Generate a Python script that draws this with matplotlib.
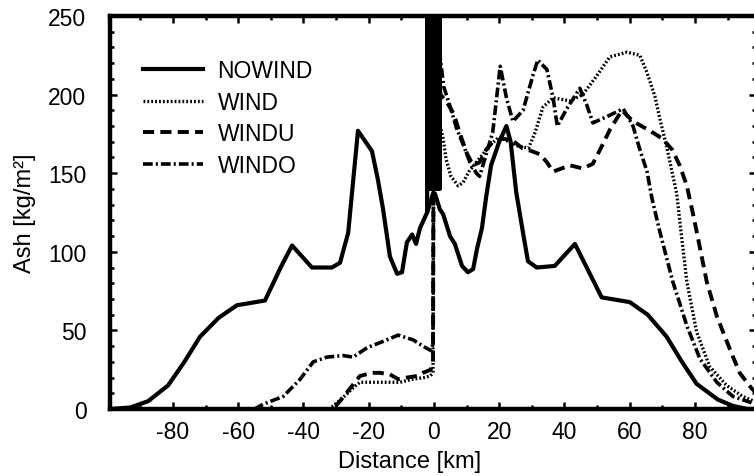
import matplotlib
matplotlib.use("Agg")
import matplotlib.pyplot as plt
from matplotlib.ticker import MultipleLocator

plt.rcParams["font.family"] = ["Liberation Sans", "DejaVu Sans"]
plt.rcParams["lines.scale_dashes"] = False
plt.rcParams["axes.unicode_minus"] = False

# NOWIND profile (km, kg/m2)
nowind_x = [-99, -93, -87.6, -81.5, -76.5, -71.7, -66, -60.4, -51.8, -47, -43.5,
            -37.4, -31.3, -28.8, -26.3, -23.3, -19, -17.2, -15.6, -13.5, -11.3,
            -9.8, -8.3, -6.7, -5.5, -4.3, -2.1, -0.3,
            0.3, 1.8, 2.8, 4.9, 6.4, 8.6, 10.4, 12, 13.2, 14.7, 16, 17.5, 20,
            22.2, 23.5, 25.2, 27.3, 28.8, 31.5, 37, 43.2, 51.4, 60, 65.5, 71.3,
            76, 80.5, 87, 91.6, 96, 99]
nowind_y = [0, 1, 5, 15, 30, 46, 58, 66, 69, 90, 104,
            90, 90, 93, 112, 177, 164, 146, 127, 97, 86,
            87, 106, 111, 105, 115, 125, 137,
            137, 127, 124, 110, 105, 91, 87, 89, 102, 115, 135, 155, 170,
            180, 170, 138, 112, 94, 90, 91, 105, 71, 68, 60, 46,
            30, 16, 6, 2, 0, 0]

# dense core around the vent (x = -2 .. 2 km)
core_x = [-2.1, -2.1, -1.8, -1.5, -1.2, -0.9, -0.6, -0.3, 0.0, 0.3, 0.6,
          0.9, 1.2, 1.5, 1.8, 1.8]
core_y = [126, 262, 140, 262, 140, 262, 140, 262, 140, 262, 140,
          262, 140, 262, 140, 262]

wind_x = [-99, -32, -29.7, -27, -24.5, -22.7, -16, -10.4, -6.4, -3, -1.2, -0.3,
          0.0, 1.5, 2.8, 3.7, 5.2, 7.4, 8.9, 10.7, 13.8, 16.8, 19.9, 23, 26, 29,
          31, 33.4, 36.5, 39, 41.7, 45.6, 49.9, 53.9, 59.2, 63.1, 65.3, 67.7,
          69.3, 71.3, 74.4, 75.7, 77.5, 80.5, 84.5, 89.7, 94.6, 98, 100]
wind_y = [0, 0, 4, 9, 14, 17, 17, 17, 19, 20, 21, 23,
          255, 184, 172, 159, 148, 142, 144, 151, 159, 167, 173, 170, 167, 166,
          176, 192, 198, 197, 196, 200, 212, 224, 227, 225, 214, 199,
          184, 167, 137, 113, 81, 49, 27, 15, 8, 5, 4]

windu_x = [-99, -31, -28.8, -25, -22.7, -19, -16.5, -13.5, -11, -8.3, -5.2, -3.4,
           -1, -0.3, 0.0, 2, 4, 6, 8, 10, 12, 14, 16, 18, 21, 24, 27, 30, 32.5,
           34.6, 36.5, 41.7, 45.6, 48.7, 51.4, 54, 57.6, 61, 66.2, 70, 73, 75.3,
           77.5, 79.3, 80.5, 83.6, 86.7, 90.7, 93.7, 97.4, 100]
windu_y = [0, 0, 5, 15, 21, 23, 23, 22, 19, 20, 21, 23,
           25, 30, 255, 200, 195, 188, 175, 163, 155, 157, 165, 170, 172, 171, 166,
           164, 162, 157, 151, 155, 153, 156, 167, 178, 190, 183, 177, 172, 165,
           155, 142, 125, 113, 81, 59, 38, 23, 13, 8]

windo_x = [-99, -55, -52.4, -46.2, -41, -37, -32.8, -27.9, -24.8, -20.5, -15.6,
           -11, -6.4, -3.4, -0.8, -0.3, 0.0, 3, 5, 7, 9, 11, 13, 14, 16, 18,
           20.3, 22.3, 24.2, 27.3, 30.3, 31.8, 34.6, 36.5, 37.8, 40.7, 44.7, 46.9,
           48.7, 53, 58, 61, 63.1, 65.3, 66.8, 69.2, 73.2, 77.5, 81.5, 86.7,
           91.6, 95.9, 100]
windo_y = [0, 0, 3, 8, 19, 30, 33, 34, 33, 39, 43,
           47, 44, 40, 37, 42, 255, 205, 192, 178, 168, 157, 150, 148, 162, 176,
           218, 197, 183, 190, 212, 222, 216, 198, 180, 191, 204, 193,
           182, 186, 191, 180, 165, 151, 134, 113, 81, 53, 32, 17,
           8, 5, 2]

fig = plt.figure(figsize=(7.54, 4.77), dpi=100)
ax = fig.add_axes([110 / 754, 67 / 477, 646 / 754, 393 / 477])

ax.plot(nowind_x, nowind_y, color="black", lw=3.0, label="NOWIND",
        solid_joinstyle="round")
ax.plot(wind_x, wind_y, color="black", lw=2.4, ls=(0, (1.3, 1.5)), label="WIND")
ax.plot(windu_x, windu_y, color="black", lw=2.8, ls=(0, (8, 4.5)), label="WINDU")
ax.plot(windo_x, windo_y, color="black", lw=2.6, ls=(0, (7, 2.2, 1.5, 2.2)),
        label="WINDO")
ax.plot(core_x, core_y, color="black", lw=3.0)

ax.set_xlim(-99.3, 98.7)
ax.set_ylim(0, 250)
ax.xaxis.set_major_locator(MultipleLocator(20))
ax.xaxis.set_minor_locator(MultipleLocator(10))
ax.yaxis.set_major_locator(MultipleLocator(50))
ax.yaxis.set_minor_locator(MultipleLocator(10))
ax.tick_params(which="both", direction="in", top=True, right=True, width=1.8,
               labelsize=16.5)
ax.tick_params(which="major", length=5)
ax.tick_params(which="minor", length=3)
ax.tick_params(axis="x", pad=8)
ax.tick_params(axis="y", pad=17)
for s in ax.spines.values():
    s.set_linewidth(3.2)

ax.set_xlabel("Distance [km]", fontsize=17)
ax.set_ylabel("Ash [kg/m²]", fontsize=17)
ax.xaxis.set_label_coords(0.464, -0.105)
ax.yaxis.set_label_coords(-0.115, 0.5)

ax.legend(loc="upper left", bbox_to_anchor=(0.051, 0.89), frameon=False,
          fontsize=16.5, handlelength=2.6, handletextpad=0.65,
          labelspacing=0.37, borderpad=0, borderaxespad=0)

fig.savefig("out.png", dpi=100)
